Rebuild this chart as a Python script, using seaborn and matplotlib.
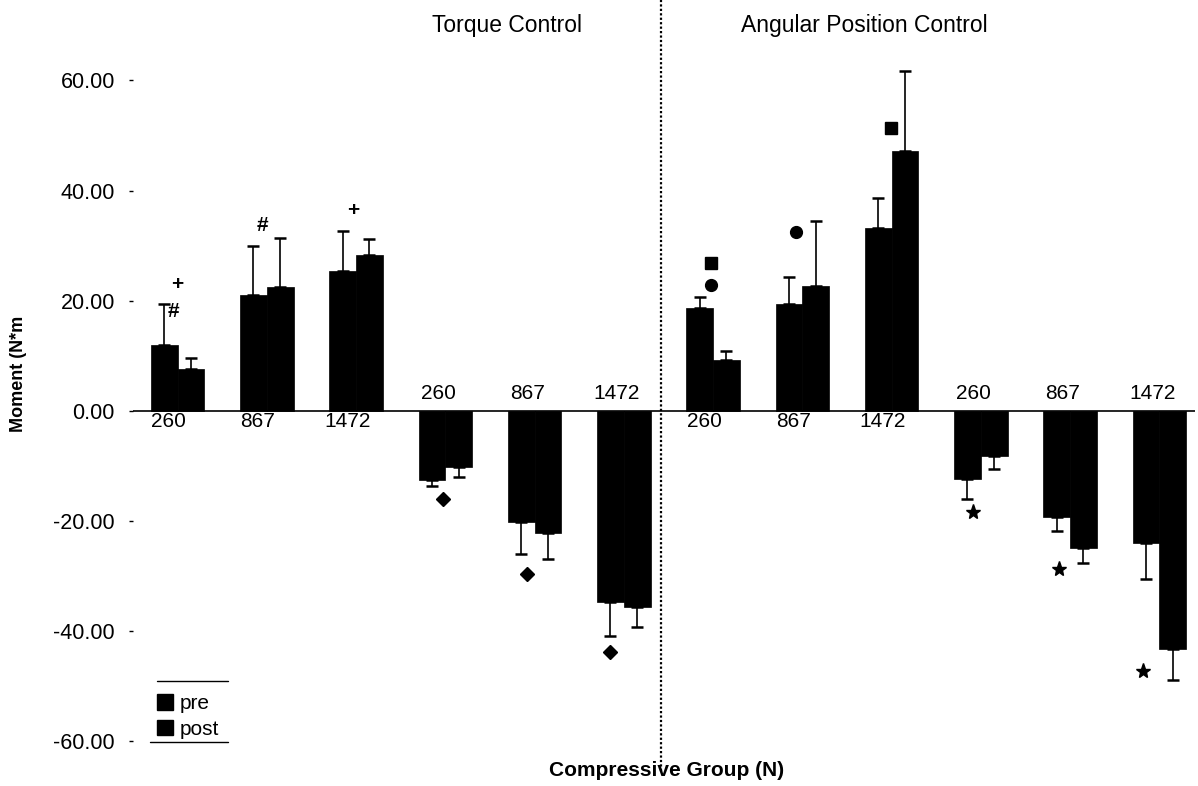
import numpy as np
import pandas as pd
import matplotlib
matplotlib.use("Agg")
import matplotlib.pyplot as plt
from matplotlib.patches import Patch
from matplotlib.lines import Line2D
import seaborn as sns

# ---------------- data ----------------
groups = ["TQ-260", "TQ-867", "TQ-1472", "TQ-260n", "TQ-867n", "TQ-1472n",
          "AP-260", "AP-867", "AP-1472", "AP-260n", "AP-867n", "AP-1472n"]
group_labels = ["260", "867", "1472"] * 4
pre_mean = [12.0, 21.0, 25.4, -12.5, -20.1, -34.7, 18.7, 19.4, 33.2, -12.3, -19.2, -24.0]
pre_sd = [7.4, 9.0, 7.3, 1.1, 5.9, 6.1, 2.0, 4.9, 5.5, 3.7, 2.7, 6.5]
post_mean = [7.6, 22.5, 28.3, -10.2, -22.1, -35.6, 9.3, 22.7, 47.2, -8.2, -24.9, -43.2]
post_sd = [2.0, 8.9, 2.9, 1.8, 4.8, 3.6, 1.6, 11.8, 14.5, 2.3, 2.7, 5.6]
conditions = ["pre", "post"]
section_titles = ["Torque Control", "Angular Position Control"]
yticks = [-60, -40, -20, 0, 20, 40, 60]

# significance symbols: (group index, offset, y, symbol)
sig_marks = [
    (0, 0.00, 22.9, "+"), (0, -0.05, 18.1, "#"),
    (1, -0.05, 33.6, "#"), (2, -0.03, 36.3, "+"),
    (3, -0.03, -16.0, "D"), (4, -0.09, -29.6, "D"), (5, -0.15, -43.7, "D"),
    (6, -0.02, 26.9, "s"), (6, -0.02, 22.9, "o"),
    (7, -0.07, 32.5, "o"), (8, -0.01, 51.4, "s"),
    (9, -0.09, -18.3, "*"), (10, -0.12, -28.7, "*"), (11, -0.18, -47.2, "*"),
]

df = pd.DataFrame({
    "group": groups * 2,
    "cond": [conditions[0]] * len(groups) + [conditions[1]] * len(groups),
    "moment": pre_mean + post_mean,
})

sns.set_style("white")
plt.rcParams["font.family"] = ["Liberation Sans", "DejaVu Sans"]
plt.rcParams["text.color"] = "black"
plt.rcParams["ytick.color"] = "black"
plt.rcParams["axes.labelcolor"] = "black"

fig = plt.figure(figsize=(11.98, 7.86), dpi=100)
ax = fig.add_axes([133 / 1198, 1 - 760 / 786, 1062 / 1198, 760 / 786])

sns.barplot(data=df, x="group", y="moment", hue="cond", hue_order=conditions,
            order=groups, palette=["black", "black"], width=0.6, errorbar=None,
            legend=False, ax=ax, saturation=1, edgecolor="black", linewidth=0.5)

# one-sided error bars
for cont, means, sds in zip(ax.containers, [pre_mean, post_mean], [pre_sd, post_sd]):
    xs = [p.get_x() + p.get_width() / 2 for p in cont.patches]
    lower = [s if m < 0 else 0 for m, s in zip(means, sds)]
    upper = [s if m >= 0 else 0 for m, s in zip(means, sds)]
    ax.errorbar(xs, means, yerr=[lower, upper], fmt="none", ecolor="black",
                elinewidth=1.2, capsize=4, capthick=1.8, zorder=1)

ax.set_xlim(-0.5, 11.4)
ax.set_ylim(-63.4, 74.6)
ax.set_yticks(yticks)
ax.set_yticklabels([f"{v:.2f}" for v in yticks], fontsize=15.5, color="black")
ax.tick_params(axis="y", length=3, width=1, direction="out", pad=10, left=True,
               colors="black")
ax.set_xticks([])
ax.set_xlabel("")
ax.set_ylabel("")
for s in ax.spines.values():
    s.set_visible(False)

ax.axhline(0, color="black", lw=1.2, zorder=0)
ax.plot([5.42, 5.42], [-65.4, 74.6], color="black", lw=1.6, ls=(0, (1, 1)),
        clip_on=False)

# group labels at zero line
for i, (lab, m) in enumerate(zip(group_labels, pre_mean)):
    if m >= 0:
        ax.text(i - 0.1, -0.3, lab, ha="center", va="top", fontsize=15, color="black")
    else:
        ax.text(i - 0.08, 1.4, lab, ha="center", va="bottom", fontsize=15, color="black")

# significance symbols
for gi, off, y, sym in sig_marks:
    x = gi + off
    if sym in ("+", "#"):
        ax.text(x, y, sym, ha="center", va="center", fontsize=15,
                fontweight="bold", color="black")
    else:
        size = {"D": 7.5, "o": 8.5, "s": 8.5, "*": 11}[sym]
        ax.plot(x, y, marker=sym, color="black", ms=size, ls="none")

# section titles
ax.text(3.69, 70.0, section_titles[0], ha="center", va="center", fontsize=16.5,
        color="black")
ax.text(7.69, 70.0, section_titles[1], ha="center", va="center", fontsize=16.5,
        color="black")

# axis labels
fig.text(667 / 1198, 1 - 771 / 786, "Compressive Group (N)", ha="center",
         va="center", fontsize=15, fontweight="bold", color="black")
fig.text(19 / 1198, 1 - 374 / 786, "Moment (N*m", ha="center", va="center",
         rotation=90, fontsize=13, fontweight="bold", color="black")

# legend
handles = [Patch(facecolor="black", edgecolor="black", label=c) for c in conditions]
leg = ax.legend(handles=handles, loc="upper left",
                bbox_to_anchor=((149 - 133) / 1062, (760 - 686) / 760),
                frameon=False, fontsize=15, handlelength=0.75, handleheight=0.75,
                handletextpad=0.3, labelspacing=0.3, borderaxespad=0,
                labelcolor="black")
fig.add_artist(Line2D([157 / 1198, 228 / 1198], [1 - 681 / 786] * 2,
                      color="black", lw=1, transform=fig.transFigure))
fig.add_artist(Line2D([150 / 1198, 228 / 1198], [1 - 742 / 786] * 2,
                      color="black", lw=1, transform=fig.transFigure))

fig.savefig("out.png", dpi=100)
